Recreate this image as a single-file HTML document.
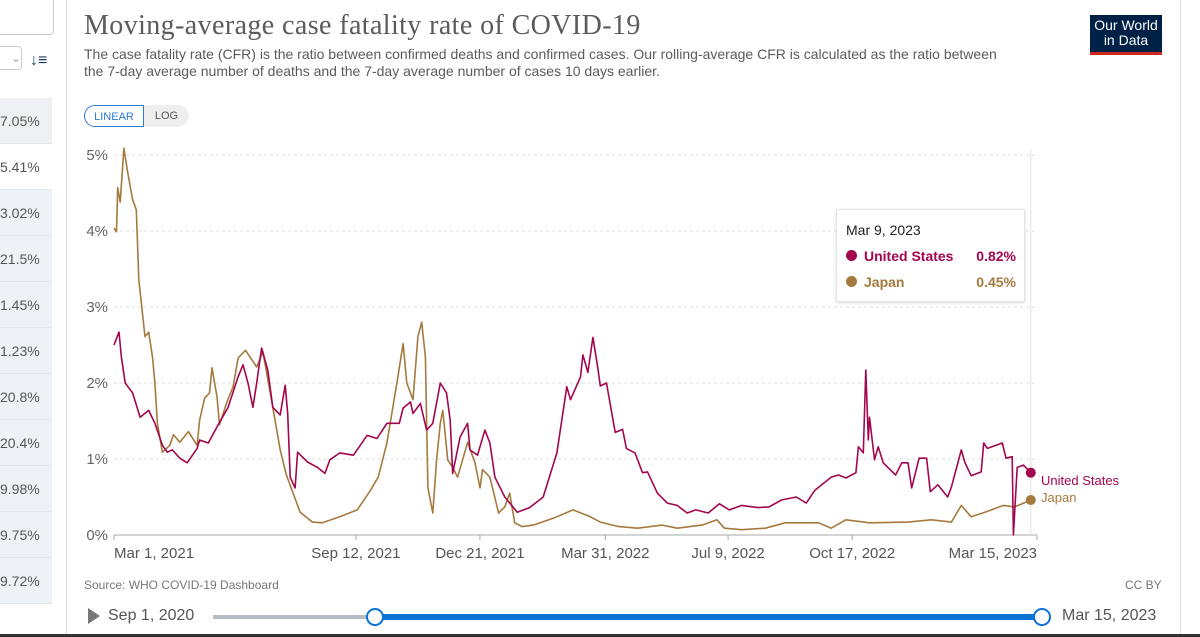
<!DOCTYPE html>
<html><head><meta charset="utf-8">
<style>
body{margin:0;width:1200px;height:637px;overflow:hidden;background:#fff;font-family:"Liberation Sans",sans-serif;position:relative}
.abs{position:absolute}
.row{position:absolute;left:0;width:52px;height:46px;text-align:right;font-size:14px;color:#555;line-height:46px;box-sizing:border-box;padding-right:14px;border-bottom:1px solid #e3e6eb}
</style></head><body>
<div class="abs" style="left:0;top:0;width:66px;height:637px;border-right:1px solid #ddd;background:#fff">
 <div class="abs" style="left:-5px;top:-5px;width:57px;height:38px;border:1px solid #ccc;border-radius:4px"></div>
 <div class="abs" style="left:-8px;top:46px;width:28px;height:22px;border:1px solid #ccc;border-radius:4px;color:#aaa;font-size:12px;line-height:22px;text-align:right">&#8964;</div>
 <div class="abs" style="left:30px;top:52px;font-size:16px;font-weight:bold;color:#1d3d63">&#8595;&#8801;</div>
 <div class="row" style="top:98px;background:#eef0f3;line-height:46px">7.05%</div>
 <div class="row" style="top:144px;background:#fff">5.41%</div>
 <div class="row" style="top:190px;background:#eef1f6">3.02%</div>
 <div class="row" style="top:236px;background:#eef1f6">21.5%</div>
 <div class="row" style="top:282px;background:#eef1f6">1.45%</div>
 <div class="row" style="top:328px;background:#eef1f6">1.23%</div>
 <div class="row" style="top:374px;background:#eef1f6">20.8%</div>
 <div class="row" style="top:420px;background:#eef1f6">20.4%</div>
 <div class="row" style="top:466px;background:#eef1f6">9.98%</div>
 <div class="row" style="top:512px;background:#eef1f6">9.75%</div>
 <div class="row" style="top:558px;background:#eef1f6">9.72%</div>
</div>
<div class="abs" style="left:1180px;top:0;width:1px;height:637px;background:#e0e0e0"></div>
<div class="abs" style="left:0;top:634px;width:1200px;height:3px;background:#333"></div>
<div class="abs" style="left:84px;top:10px;font-family:'Liberation Serif',serif;font-size:28px;color:#5b5b5b;letter-spacing:0.4px">Moving-average case fatality rate of COVID-19</div>
<div class="abs" style="left:84px;top:46px;width:935px;font-size:14px;line-height:17px;color:#5b5b5b">The case fatality rate (CFR) is the ratio between confirmed deaths and confirmed cases. Our rolling-average CFR is calculated as the ratio between the 7-day average number of deaths and the 7-day average number of cases 10 days earlier.</div>
<div class="abs" style="left:1090px;top:15px;width:72px;height:40px;background:#002147;color:#fff;font-size:14px;line-height:15px;text-align:center;padding-top:3px;box-sizing:border-box;border-bottom:3px solid #ce261e">Our World<br>in Data</div>
<div class="abs" style="left:84px;top:105px;width:60px;height:22px;border:1px solid #2b7cd3;border-radius:12px 0 0 12px;color:#2b7cd3;font-size:11px;line-height:22px;text-align:center;box-sizing:border-box">LINEAR</div>
<div class="abs" style="left:144px;top:105px;width:45px;height:22px;background:#eee;border-radius:0 12px 12px 0;color:#555;font-size:11px;line-height:22px;text-align:center">LOG</div>
<svg class="abs" style="left:0;top:0" width="1200" height="637" id="chart"></svg>
<div class="abs" style="left:836px;top:209px;width:187px;height:91px;background:#fff;border:1px solid #e5e5e5;box-shadow:0 1px 3px rgba(0,0,0,0.15);border-radius:2px;font-size:14px">
 <div class="abs" style="left:9px;top:12px;color:#222">Mar 9, 2023</div>
 <div class="abs" style="left:9px;top:38px;width:170px;color:#a2064e;font-weight:bold"><span style="display:inline-block;width:11px;height:11px;border-radius:50%;background:#a2064e;margin-right:7px"></span>United States<span style="float:right">0.82%</span></div>
 <div class="abs" style="left:9px;top:64px;width:170px;color:#a57a3e;font-weight:bold"><span style="display:inline-block;width:11px;height:11px;border-radius:50%;background:#a57a3e;margin-right:7px"></span>Japan<span style="float:right">0.45%</span></div>
</div>
<div class="abs" style="left:84px;top:578px;font-size:12px;color:#777">Source: WHO COVID-19 Dashboard</div>
<div class="abs" style="left:1125px;top:578px;font-size:12px;color:#777">CC BY</div>
<div class="abs" style="left:88px;top:608px;width:0;height:0;border-left:12px solid #777;border-top:8px solid transparent;border-bottom:8px solid transparent"></div>
<div class="abs" style="left:108px;top:607px;font-size:16px;color:#555">Sep 1, 2020</div>
<div class="abs" style="left:213px;top:615px;width:162px;height:4px;background:#b7bcc4"></div>
<div class="abs" style="left:375px;top:614px;width:667px;height:6px;background:#0c73d6"></div>
<div class="abs" style="left:366px;top:608px;width:14px;height:14px;border:2px solid #0c73d6;border-radius:50%;background:#fff"></div>
<div class="abs" style="left:1033px;top:608px;width:14px;height:14px;border:2px solid #0c73d6;border-radius:50%;background:#fff"></div>
<div class="abs" style="left:1062px;top:607px;font-size:16px;color:#555">Mar 15, 2023</div>
<script>
const yTicks=[0,1,2,3,4,5];
const xTickDays=[0,195,295,396,495,595,744];
const xTickLabels=["Mar 1, 2021","Sep 12, 2021","Dec 21, 2021","Mar 31, 2022","Jul 9, 2022","Oct 17, 2022","Mar 15, 2023"];
const usDays=[0,4,6,9,15,21,28,33,39,43,47,53,59,67,69,76,84,92,100,104,108,112,115,119,124,128,134,138,140,142,146,148,156,164,170,174,182,193,204,212,220,230,233,239,241,247,252,257,263,268,271,273,279,285,287,293,299,303,307,315,325,335,346,357,365,368,376,378,382,386,390,392,397,404,410,413,420,426,430,438,446,454,462,469,479,488,496,506,519,528,538,550,558,565,578,584,590,598,600,604,606,608,609,613,616,620,630,635,640,643,649,655,658,664,672,675,683,686,691,699,701,704,716,719,724,725,728,733,739];
const usValues=[2.5,2.67,2.34,2.0,1.87,1.55,1.64,1.47,1.18,1.09,1.12,1.01,0.95,1.14,1.25,1.21,1.45,1.68,2.08,2.24,2.0,1.68,2.0,2.46,2.17,1.68,1.58,1.97,1.6,0.76,0.62,1.09,0.96,0.89,0.81,0.99,1.08,1.05,1.31,1.27,1.47,1.47,1.67,1.75,1.6,1.73,1.38,1.47,2.0,1.87,1.51,0.81,1.29,1.47,1.12,1.05,1.38,1.21,0.76,0.5,0.3,0.36,0.5,1.08,1.95,1.78,2.08,2.37,2.14,2.6,2.2,1.96,2.0,1.35,1.39,1.14,1.08,0.82,0.83,0.55,0.42,0.39,0.29,0.33,0.29,0.41,0.33,0.39,0.36,0.37,0.46,0.5,0.42,0.59,0.76,0.79,0.75,0.82,1.16,1.08,2.17,1.25,1.55,0.99,1.16,0.95,0.79,0.95,0.95,0.62,1.01,1.01,0.57,0.66,0.5,0.63,1.12,0.95,0.78,0.83,1.21,1.14,1.21,1.01,1.03,0.0,0.89,0.92,0.82];
const jpDays=[0,2,3,5,8,11,15,18,20,25,28,31,33,35,39,45,48,53,60,67,69,73,77,79,83,85,91,96,100,106,115,120,128,134,139,150,160,168,182,196,206,213,220,228,233,236,241,245,248,251,253,257,260,263,265,269,273,277,285,291,295,297,303,310,315,319,323,329,338,354,370,384,392,407,422,442,454,474,486,492,506,525,541,568,578,590,609,640,659,675,683,691,702,717,726,739];
const jpValues=[4.04,3.99,4.57,4.38,5.09,4.78,4.41,4.28,3.36,2.61,2.67,2.34,2.0,1.47,1.09,1.18,1.32,1.22,1.36,1.18,1.51,1.8,1.87,2.2,1.82,1.45,1.75,1.95,2.33,2.43,2.21,2.41,1.68,1.12,0.79,0.3,0.17,0.16,0.24,0.33,0.57,0.76,1.21,2.0,2.52,2.0,1.78,2.61,2.8,2.34,0.62,0.29,0.99,1.47,1.64,0.99,0.89,0.76,1.22,0.95,0.62,0.86,0.76,0.29,0.37,0.55,0.16,0.11,0.13,0.22,0.33,0.24,0.17,0.11,0.09,0.13,0.09,0.13,0.2,0.09,0.07,0.09,0.16,0.16,0.09,0.2,0.16,0.17,0.2,0.17,0.39,0.24,0.3,0.39,0.37,0.46];
const NS='http://www.w3.org/2000/svg';
const svg=document.getElementById('chart');
const x0=114,x1=1037,dayMax=744,yBase=535,pxPer=76;
function xs(d){return x0+(x1-x0)*d/dayMax;}
function ys(v){return yBase-v*pxPer;}
function mk(tag,attrs){const e=document.createElementNS(NS,tag);for(const k in attrs)e.setAttribute(k,attrs[k]);svg.appendChild(e);return e;}
yTicks.forEach(function(t){
  if(t>0){const g=mk('line',{x1:x0,x2:x1,y1:ys(t),y2:ys(t),stroke:'#ddd','stroke-dasharray':'3,3'});
  
  }
  const tx=mk('text',{x:108,y:ys(t)+5,'text-anchor':'end','font-size':'15','fill':'#666','font-family':'Liberation Sans, sans-serif'});
  tx.textContent=t+'%';
  
  
});
const ax=mk('line',{x1:x0,x2:x1,y1:yBase,y2:yBase,stroke:'#aaa'});


xTickDays.forEach(function(d,i){
  const tk=mk('line',{x1:xs(d),x2:xs(d),y1:yBase,y2:yBase+5,stroke:'#aaa'});
  
  
  const anchor=i==0?'start':(i==xTickDays.length-1?'end':'middle');
  const tx=mk('text',{x:xs(d),y:558,'text-anchor':anchor,'font-size':'15','fill':'#555','font-family':'Liberation Sans, sans-serif'});
  tx.textContent=xTickLabels[i];
  
  
});
const hv=mk('line',{x1:xs(739),x2:xs(739),y1:150,y2:yBase,stroke:'#e3e3e3'});


function series(days,vals,color,name){
  const n=Math.min(days.length,vals.length)-1;
  let d='';
  for(let i=0;i<=n;i++){d+=(i?'L':'M')+xs(days[i]).toFixed(1)+','+ys(vals[i]).toFixed(1);}
  const p=mk('path',{d:d,fill:'none',stroke:color,'stroke-width':'1.6','stroke-linejoin':'round'});
  
  
  const c=mk('circle',{cx:xs(days[n]),cy:ys(vals[n]),r:5,fill:color});
  
  
}
series(jpDays,jpValues,'#a57a3e','japan');
series(usDays,usValues,'#a2064e','united-states');
const l1=mk('text',{x:1041,y:485,'font-size':'13','fill':'#a2064e','font-family':'Liberation Sans, sans-serif'});
l1.textContent='United States';


const l2=mk('text',{x:1041,y:502,'font-size':'13','fill':'#a57a3e','font-family':'Liberation Sans, sans-serif'});
l2.textContent='Japan';


</script>
</body></html>
